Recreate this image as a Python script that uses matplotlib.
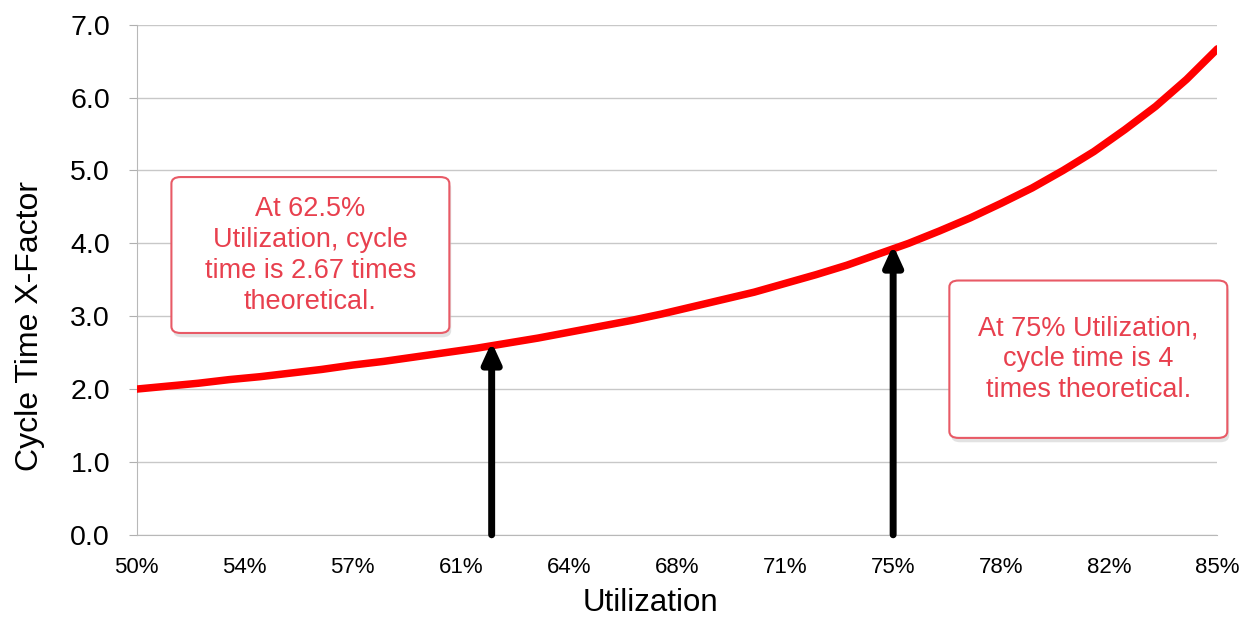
import numpy as np
import matplotlib.pyplot as plt
from matplotlib.patches import FancyBboxPatch

plt.rcParams["font.family"] = ["Liberation Sans", "DejaVu Sans"]

# Cycle time X-factor vs. utilization
utilization = np.arange(50, 86)  # percent
x_factor = [2.00, 2.04, 2.08, 2.13, 2.17, 2.22, 2.27, 2.33, 2.38, 2.44,
            2.50, 2.56, 2.63, 2.70, 2.78, 2.86, 2.94, 3.03, 3.13, 3.23,
            3.33, 3.45, 3.57, 3.70, 3.85, 4.00, 4.17, 4.35, 4.55, 4.76,
            5.00, 5.26, 5.56, 5.88, 6.25, 6.67]

tick_pos = [50, 53.5, 57, 60.5, 64, 67.5, 71, 74.5, 78, 81.5, 85]
tick_labels = ["50%", "54%", "57%", "61%", "64%", "68%", "71%", "75%",
               "78%", "82%", "85%"]

arrow_x = [61.5, 74.5]
notes = ["At 62.5%\nUtilization, cycle\ntime is 2.67 times\ntheoretical.",
         "At 75% Utilization,\ncycle time is 4\ntimes theoretical."]
# box extents: (x0, x1, y0, y1) in data units
note_boxes = [(51.13, 60.13, 2.77, 4.91), (76.32, 85.32, 1.33, 3.49)]

red_text = "#e8404e"

fig = plt.figure(figsize=(12.41, 6.19), dpi=100)
ax = fig.add_axes([0.110, 0.136, 0.871, 0.824])

ax.plot(utilization, x_factor, color="#ff0000", lw=5.4,
        solid_capstyle="round", zorder=3)

ax.set_xlim(50, 85)
ax.set_ylim(0, 7)
ax.set_yticks(np.arange(0, 8))
ax.set_yticklabels([f"{v:.1f}" for v in range(8)])
ax.set_xticks(tick_pos)
ax.set_xticklabels(tick_labels)
ax.tick_params(axis="y", labelsize=20.5, length=6, color="#b0b0b0", pad=13)
ax.tick_params(axis="x", labelsize=16, length=0, pad=16)
ax.grid(axis="y", color="#c8c8c8", lw=1)
ax.set_axisbelow(True)
for side in ["top", "right"]:
    ax.spines[side].set_visible(False)
for side in ["left", "bottom"]:
    ax.spines[side].set_color("#b8b8b8")

ax.set_xlabel("Utilization", fontsize=22.5)
ax.set_ylabel("Cycle Time X-Factor", fontsize=23)
ax.xaxis.set_label_coords(0.475, -0.105)
ax.yaxis.set_label_coords(-0.085, 0.41)

# arrows from the axis up to the curve
for xa in arrow_x:
    ya = np.interp(xa, utilization, x_factor)
    ax.annotate("", xy=(xa, ya + 0.05), xytext=(xa, 0),
                arrowprops=dict(arrowstyle="-|>,head_width=0.55,head_length=1.2",
                                color="black", lw=5, shrinkA=0, shrinkB=0),
                zorder=4, annotation_clip=False)

# callout boxes
for text, (x0, x1, y0, y1) in zip(notes, note_boxes):
    shadow = FancyBboxPatch((x0 + 0.06, y0 - 0.06), x1 - x0, y1 - y0,
                            boxstyle="round,pad=0,rounding_size=0.3",
                            mutation_aspect=0.3,
                            fc="#d0d0d0", ec="none", alpha=0.6,
                            clip_on=False, zorder=5)
    box = FancyBboxPatch((x0, y0), x1 - x0, y1 - y0,
                         boxstyle="round,pad=0,rounding_size=0.3",
                         mutation_aspect=0.3,
                         fc="white", ec="#e85a66", lw=1.5,
                         clip_on=False, zorder=6)
    ax.add_patch(shadow)
    ax.add_patch(box)
    ax.text((x0 + x1) / 2, (y0 + y1) / 2, text, ha="center", va="center",
            fontsize=19.5, color=red_text, linespacing=1.25, zorder=7)

fig.savefig("out.png", dpi=100)
